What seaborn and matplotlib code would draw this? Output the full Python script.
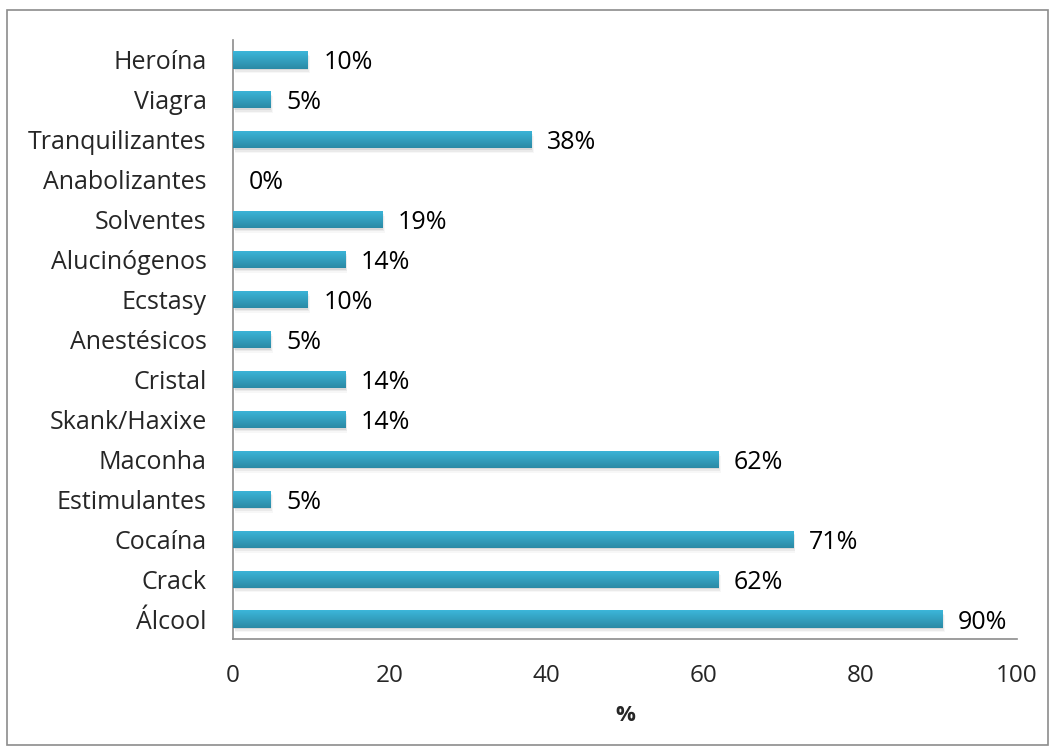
import numpy as np
import pandas as pd
import matplotlib
matplotlib.use("Agg")
import matplotlib.pyplot as plt
import seaborn as sns
from matplotlib.patches import Rectangle

categories = ["Heroína", "Viagra", "Tranquilizantes", "Anabolizantes", "Solventes",
              "Alucinógenos", "Ecstasy", "Anestésicos", "Cristal", "Skank/Haxixe",
              "Maconha", "Estimulantes", "Cocaína", "Crack", "Álcool"]
values = [9.52, 4.76, 38.10, 0.0, 19.05, 14.29, 9.52, 4.76, 14.29, 14.29,
          61.90, 4.76, 71.43, 61.90, 90.48]
value_labels = ["10%", "5%", "38%", "0%", "19%", "14%", "10%", "5%", "14%", "14%",
                "62%", "5%", "71%", "62%", "90%"]
x_ticks = [0, 20, 40, 60, 80, 100]
x_label = "%"

sns.set_theme(style="white")
plt.rcParams["font.family"] = ["Open Sans", "DejaVu Sans"]
FS = 18

df = pd.DataFrame({"cat": categories, "val": values})

fig = plt.figure(figsize=(10.55, 7.53), dpi=100)
ax = fig.add_axes([233 / 1055, 1 - 639 / 753, (1017 - 233) / 1055, (639 - 40) / 753])

sns.barplot(data=df, x="val", y="cat", orient="h", color="#33a9cc", width=0.43,
            ax=ax, saturation=1, zorder=3, linewidth=0)

# gradient + shadow on bars
grad = np.linspace(0, 1, 64).reshape(-1, 1)
cmap = matplotlib.colors.LinearSegmentedColormap.from_list("g", ["#3cb6da", "#2b8aa5"])
for p in list(ax.patches):
    x0, y0 = p.get_x(), p.get_y()
    w, h = p.get_width(), p.get_height()
    if w <= 0:
        continue
    for k, a in enumerate([0.08, 0.05, 0.03]):
        sh = Rectangle((x0 + 0.1 * (k + 1), y0 + 0.04 * (k + 1)), w, h, facecolor="#000000",
                       alpha=a, edgecolor="none", zorder=2)
        ax.add_patch(sh)
    im = ax.imshow(grad, extent=(x0, x0 + w, y0 + h, y0), cmap=cmap, aspect="auto",
                   zorder=4, interpolation="bilinear")
    im.set_clip_path(p)

for i, (v, lab) in enumerate(zip(values, value_labels)):
    ax.text(v + 2.0, i, lab, va="center_baseline", ha="left", fontsize=FS, color="#000000")

ax.set_xlim(0, 100)
ax.set_ylim(len(categories) - 0.5, -0.5)
ax.set_xticks(x_ticks)
ax.set_xticklabels([str(t) for t in x_ticks], fontsize=FS - 0.5)
ax.set_yticks(range(len(categories)))
ax.set_yticklabels(categories, fontsize=FS)
ax.set_yticks(np.arange(-0.5, len(categories), 1.0), minor=True)
ax.tick_params(axis="y", which="major", length=0, pad=19)
ax.tick_params(axis="y", which="minor", length=6, width=1.2, color="#8c8c8c", direction="out")
ax.tick_params(axis="x", which="major", length=6, width=1.2, color="#8c8c8c", direction="out", pad=12)
ax.set_xlabel(x_label, fontsize=FS - 2, fontweight="bold", labelpad=12)
ax.set_ylabel("")

for s in ["top", "right"]:
    ax.spines[s].set_visible(False)
for s in ["left", "bottom"]:
    ax.spines[s].set_color("#8c8c8c")
    ax.spines[s].set_linewidth(1.2)

border = Rectangle((7 / 1055, 1 - 745 / 753), (1048 - 7) / 1055, (745 - 10) / 753,
                   transform=fig.transFigure, fill=False, edgecolor="#8c8c8c", linewidth=1.2)
fig.patches.append(border)

fig.savefig("out.png", dpi=100)
